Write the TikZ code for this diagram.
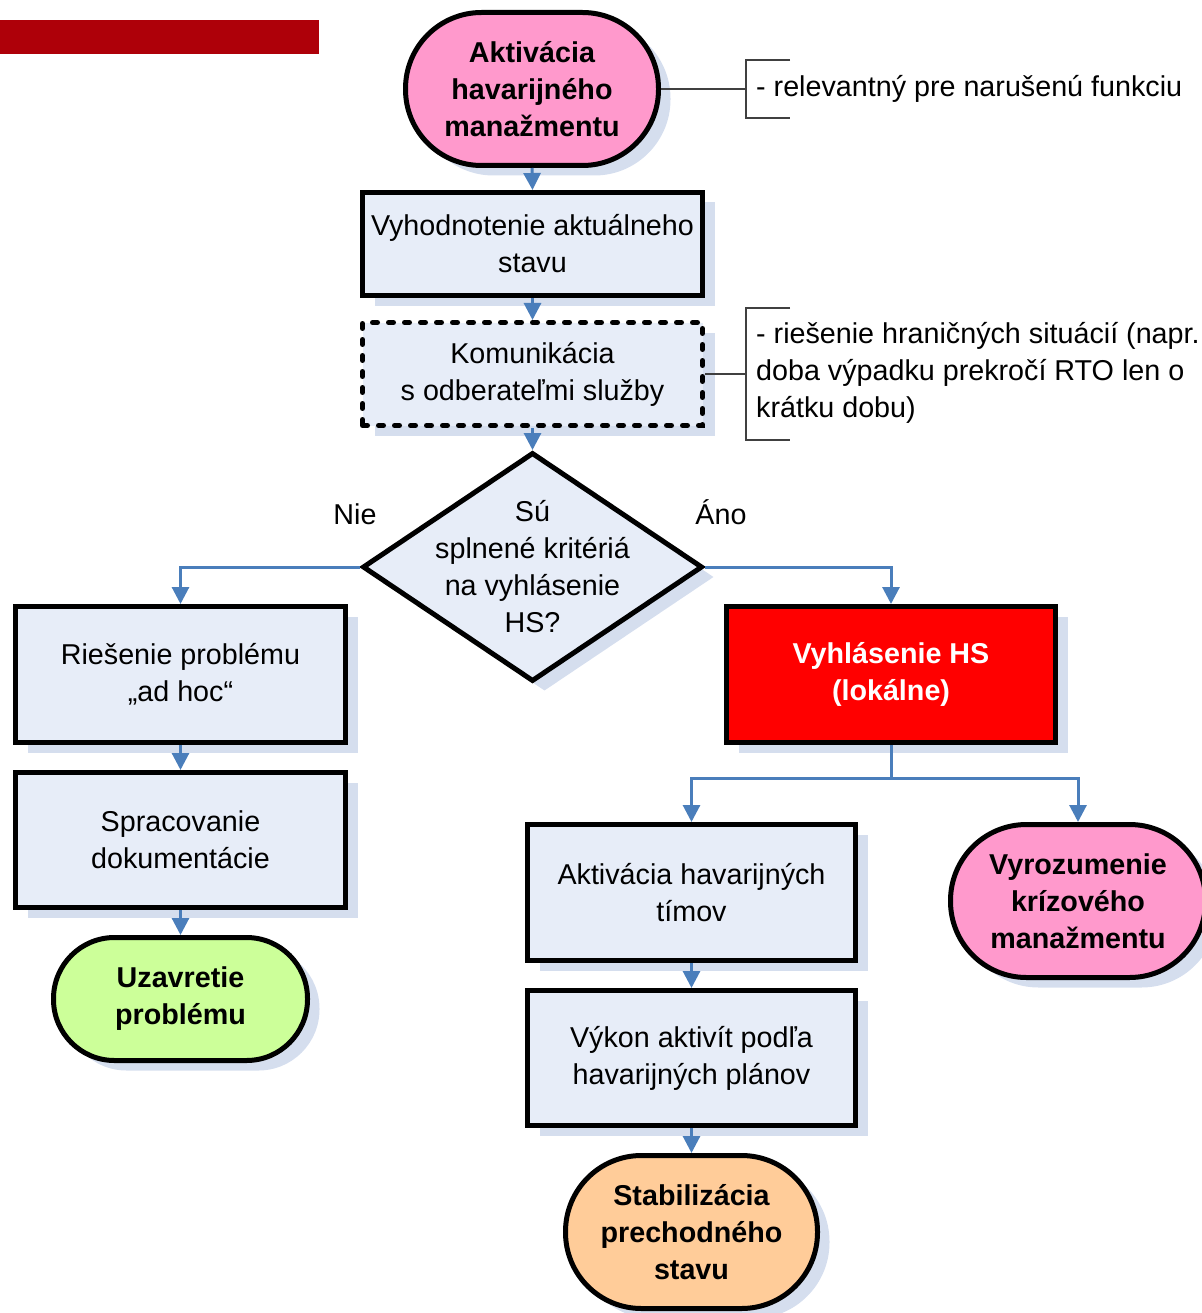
\documentclass[tikz,border=0pt]{standalone}
\usepackage{fontspec}
\setmainfont{Liberation Sans}
\usetikzlibrary{shapes.geometric,shadows,arrows.meta}
\definecolor{boxfill}{HTML}{E7EDF8}
\definecolor{shadowc}{HTML}{D5DEEE}
\definecolor{pinkfill}{HTML}{FF99CC}
\definecolor{greenfill}{HTML}{CCFF99}
\definecolor{orangefill}{HTML}{FFCC99}
\definecolor{connc}{HTML}{4A7EBB}
\definecolor{barred}{HTML}{AE0009}
\definecolor{bracketc}{HTML}{404040}
\newcommand\basefnt{\fontsize{28.7}{37}\selectfont}
\begin{document}
\begin{tikzpicture}[x=1pt,y=-1pt,
  every node/.style={font=\basefnt, align=center, inner sep=0pt},
  shad/.style={drop shadow={shadow xshift=12pt,shadow yshift=-10pt,fill=shadowc,opacity=1}},
  procbox/.style={rectangle, draw=black, line width=5pt, fill=boxfill, shad},
  dashbox/.style={rectangle, draw=black, line width=5pt, fill=boxfill, shad, dash pattern=on 5pt off 11pt, line cap=round},
  termbox/.style={rectangle, draw=black, line width=5pt, shad, font=\basefnt\bfseries},
  decbox/.style={diamond, draw=black, line width=5pt, fill=boxfill, shad, minimum width=340pt, minimum height=229pt},
  conn/.style={draw=connc, line width=3pt, -{Triangle[width=17pt,length=17pt]}},
  brk/.style={draw=bracketc, line width=1.3pt}
]
\useasboundingbox (0,0) rectangle (1201,1313);
\fill[barred] (0,20) rectangle (319,54);

% terminals and boxes
\node[termbox, fill=pinkfill, rounded corners=76pt, minimum width=253pt, minimum height=153pt] (A) at (532,89) {Aktivácia\\havarijného\\manažmentu};
\node[procbox, minimum width=340pt, minimum height=103pt] (B1) at (532.5,244) {Vyhodnotenie aktuálneho\\stavu};
\node[dashbox, minimum width=340pt, minimum height=103pt] (B2) at (532.5,374) {Komunikácia\\s odberateľmi služby};
\node[decbox] (D) at (532.5,567) {};
\node (Dtxt) at (D.center) {Sú\\splnené kritériá\\na vyhlásenie\\HS?};
\node[anchor=base] (nie) at (355,524) {Nie};
\node[anchor=base] (ano) at (721,524) {Áno};

\node[procbox, minimum width=330pt, minimum height=136pt] (B3) at (180.5,674.5) {Riešenie problému\\„ad hoc“};
\node[procbox, minimum width=330pt, minimum height=135pt] (B4) at (180.5,840) {Spracovanie\\dokumentácie};
\node[termbox, fill=greenfill, rounded corners=61pt, minimum width=254pt, minimum height=123pt] (T2) at (180.5,999) {Uzavretie\\problému};

\node[procbox, fill=red, text=white, font=\basefnt\bfseries, minimum width=329pt, minimum height=136pt] (R) at (891,674.5) {Vyhlásenie HS\\(lokálne)};
\node[procbox, minimum width=328pt, minimum height=136pt] (B5) at (691.5,892.5) {Aktivácia havarijných\\tímov};
\node[termbox, fill=pinkfill, rounded corners=76pt, minimum width=255pt, minimum height=153pt] (T3) at (1078,901) {Vyrozumenie\\krízového\\manažmentu};
\node[procbox, minimum width=328pt, minimum height=135pt] (B6) at (691.5,1058) {Výkon aktivít podľa\\havarijných plánov};
\node[termbox, fill=orangefill, rounded corners=76pt, minimum width=252pt, minimum height=153pt] (T4) at (691.5,1232) {Stabilizácia\\prechodného\\stavu};

% connectors
\draw[conn] (A.south) -- (B1.north);
\draw[conn] (B1.south) -- (B2.north);
\draw[conn] (B2.south) -- (D.north);
\draw[conn] (D.west) -| (B3.north);
\draw[conn] (D.east) -| (R.north);
\draw[conn] (B3.south) -- (B4.north);
\draw[conn] (B4.south) -- (T2.north);
\coordinate (split) at (891,778);
\draw[conn] (R.south) -- (split) -| (B5.north);
\draw[conn] (split) -| (T3.north);
\draw[conn] (B5.south) -- (B6.north);
\draw[conn] (B6.south) -- (T4.north);

% annotations
\coordinate (b1m) at (746,89);
\coordinate (b1t) at (790,60);
\coordinate (b1b) at (790,118);
\draw[brk] (A.east) -- (b1m);
\draw[brk] (b1t) -- (746,60) -- (746,118) -- (b1b);
\node[anchor=west] (note1) at (756,89) {- relevantný pre narušenú funkciu};

\coordinate (b2m) at (746,374);
\coordinate (b2t) at (790,308);
\coordinate (b2b) at (790,440);
\draw[brk] (B2.east) -- (b2m);
\draw[brk] (b2t) -- (746,308) -- (746,440) -- (b2b);
\node[anchor=west, align=left] (note2) at (756,373) {- riešenie hraničných situácií (napr.\\doba výpadku prekročí RTO len o\\krátku dobu)};
\end{tikzpicture}
\end{document}
